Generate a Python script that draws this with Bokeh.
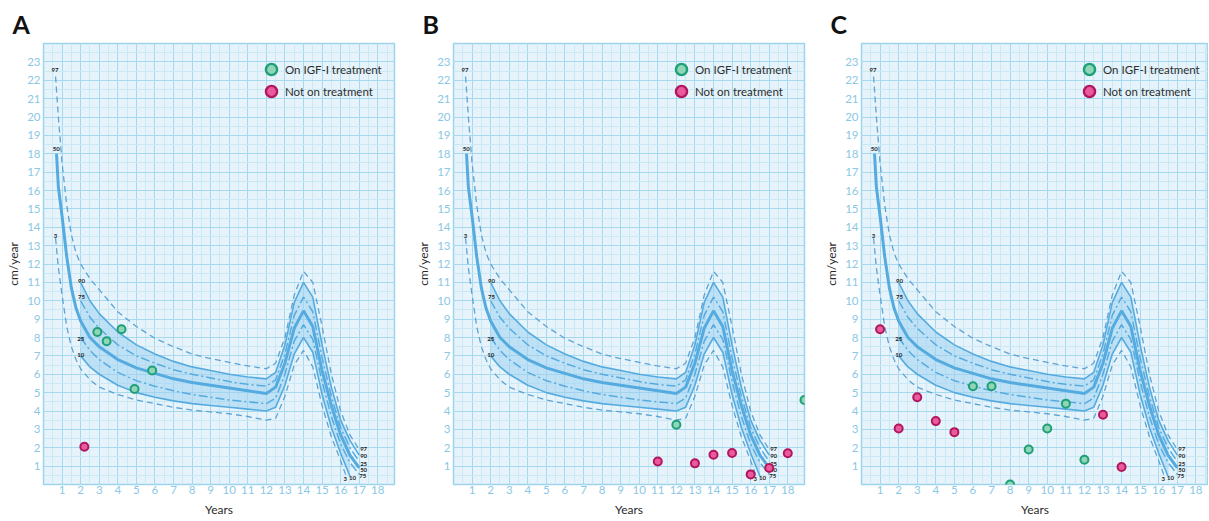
from bokeh.plotting import figure
from bokeh.layouts import row
from bokeh.models import FixedTicker, Range1d, Legend, LegendItem
from bokeh.core.properties import value
from bokeh.embed import file_html
from bokeh.resources import INLINE

# ---------------- data ----------------
YEARS = list(range(1, 19))
CMY = list(range(1, 24))

P97_X = [0.65, 0.8, 1.0, 1.25, 1.5, 1.75, 2.0, 2.5, 3, 4, 5, 6, 7, 8, 9, 10, 11, 12, 12.5, 13, 13.5, 14, 14.5, 15, 15.5, 16, 16.5, 17]
P97_Y = [22.2, 20.0, 17.5, 15.2, 13.6, 12.6, 12.0, 11.2, 10.6, 9.4, 8.6, 7.95, 7.5, 7.1, 6.85, 6.65, 6.45, 6.3, 6.6, 8.0, 10.3, 11.6, 11.0, 8.6, 6.0, 4.0, 2.7, 1.9]
P50_X = [0.7, 0.8, 1.0, 1.25, 1.5, 1.75, 2.0, 2.5, 3, 4, 5, 6, 7, 8, 9, 10, 11, 12, 12.5, 13, 13.5, 14, 14.5, 15, 15.5, 16, 16.5, 17]
P50_Y = [18.0, 16.2, 14.6, 12.4, 10.7, 9.6, 8.9, 8.0, 7.5, 6.8, 6.35, 6.05, 5.75, 5.55, 5.4, 5.25, 5.1, 4.95, 5.3, 6.6, 8.5, 9.45, 8.6, 6.2, 4.3, 2.7, 1.6, 0.9]
P3_X = [0.65, 0.8, 1.0, 1.25, 1.5, 1.75, 2.0, 2.5, 3, 4, 5, 6, 7, 8, 9, 10, 11, 12, 12.5, 13, 13.5, 14, 14.5, 15, 15.5, 16, 16.3]
P3_Y = [13.4, 11.8, 10.3, 8.6, 7.5, 6.8, 6.3, 5.7, 5.3, 4.9, 4.6, 4.4, 4.2, 4.05, 3.95, 3.85, 3.7, 3.5, 3.6, 4.8, 6.5, 7.3, 6.4, 4.3, 2.6, 1.3, 0.45]

AGE = [2.0, 2.5, 3, 4, 5, 6, 7, 8, 9, 10, 11, 12, 12.5, 13, 13.5, 14, 14.5, 15, 15.5, 16, 16.5, 17]
P90_Y = [11.0, 10.0, 9.3, 8.3, 7.6, 7.1, 6.7, 6.4, 6.2, 6.0, 5.85, 5.75, 6.1, 7.6, 9.9, 11.0, 10.2, 7.6, 5.3, 3.5, 2.4, 1.6]
P75_Y = [10.0, 9.1, 8.5, 7.6, 7.0, 6.6, 6.25, 6.0, 5.8, 5.6, 5.45, 5.35, 5.7, 7.1, 9.2, 10.2, 9.4, 6.9, 4.8, 3.1, 2.0, 1.25]
P25_Y = [8.0, 7.3, 6.8, 6.1, 5.65, 5.35, 5.1, 4.9, 4.75, 4.6, 4.5, 4.4, 4.7, 6.0, 7.8, 8.7, 7.9, 5.6, 3.7, 2.2, 1.2, 0.55]
P10_X = [2.0, 2.5, 3, 4, 5, 6, 7, 8, 9, 10, 11, 12, 12.5, 13, 13.5, 14, 14.5, 15, 15.5, 16, 16.5]
P10_Y = [7.0, 6.4, 6.0, 5.4, 5.0, 4.75, 4.55, 4.4, 4.3, 4.2, 4.1, 4.0, 4.2, 5.4, 7.1, 8.0, 7.2, 4.9, 3.1, 1.7, 0.45]

PCT_LABELS = ["97", "50", "3", "90", "75", "25", "10"]
PCT_LABEL_X = [0.62, 0.68, 0.65, 2.05, 2.05, 2.0, 2.0]
PCT_LABEL_Y = [22.55, 18.25, 13.5, 11.1, 10.2, 7.9, 7.03]
END_LABELS = ["97", "90", "25", "50", "75", "3", "10"]
END_LABEL_X = [17.05, 17.05, 17.05, 17.05, 17.0, 16.15, 16.45]
END_LABEL_Y = [1.91, 1.53, 1.13, 0.8, 0.44, 0.31, 0.35]

A_ON_X = [2.9, 3.4, 4.2, 5.85, 4.9]
A_ON_Y = [8.3, 7.8, 8.45, 6.2, 5.2]
A_OFF_X = [2.2]
A_OFF_Y = [2.05]
B_ON_X = [12.0, 18.9]
B_ON_Y = [3.25, 4.6]
B_OFF_X = [11.0, 13.0, 14.0, 15.0, 16.0, 17.0, 18.0]
B_OFF_Y = [1.25, 1.15, 1.62, 1.71, 0.55, 0.9, 1.7]
C_ON_X = [6, 7, 8, 9, 10, 11, 12]
C_ON_Y = [5.35, 5.35, 0.0, 1.9, 3.05, 4.4, 1.35]
C_OFF_X = [1, 2, 3, 4, 5, 13, 14]
C_OFF_Y = [8.45, 3.05, 4.75, 3.45, 2.85, 3.8, 0.95]

LEGEND_PROXY = [float("nan")]

# ---------------- style ----------------
FONT = "Lato"
CURVE = "#55abdf"
DASHC = "#5ea3d3"
BAND = "#9fd2f0"
GREEN_FILL, GREEN_LINE = "#8fd6b6", "#1f9f78"
MAG_FILL, MAG_LINE = "#ec5a9e", "#b0175e"
TICK_C = "#8ac8e6"
FRAME_H = 441
TOP, BOTTOM = 43, 36


def legend_box(renderer, label, y):
    return Legend(items=[LegendItem(label=label, renderers=[renderer])],
                  location=(214, y), background_fill_alpha=0, border_line_color=None,
                  label_text_font=FONT, label_text_font_size="11.5px",
                  label_text_color="#2e2e2e",
                  glyph_width=28, glyph_height=28, label_height=28, spacing=0,
                  padding=0, label_standoff=0, margin=0)


def make_panel(letter, on_x, on_y, off_x, off_y, left, frame_w, right, x_max):
    p = figure(width=left + frame_w + right, height=TOP + FRAME_H + BOTTOM,
               x_range=Range1d(0, x_max), y_range=Range1d(0, 24),
               output_backend="svg", toolbar_location=None,
               min_border_left=left, min_border_right=right,
               min_border_top=TOP, min_border_bottom=BOTTOM)
    p.background_fill_color = "#e6f3fa"
    p.border_fill_color = "white"
    p.outline_line_color = "#9dd3ed"
    p.outline_line_width = 1.5

    p.title.text = letter
    p.title.align = "left"
    p.title.offset = -31
    p.title.standoff = 10
    p.title.text_font = FONT
    p.title.text_font_size = "25px"
    p.title.text_font_style = "bold"
    p.title.text_color = "#111111"

    p.xaxis.ticker = FixedTicker(ticks=YEARS, minor_ticks=[i * 0.5 for i in range(1, 38)])
    p.yaxis.ticker = FixedTicker(ticks=CMY, minor_ticks=[i * 0.5 for i in range(1, 48)])
    for ax in (p.xaxis, p.yaxis):
        ax.axis_line_color = None
        ax.major_tick_line_color = None
        ax.minor_tick_line_color = None
        ax.major_tick_out = 0
        ax.major_tick_in = 0
        ax.minor_tick_out = 0
        ax.minor_tick_in = 0
        ax.major_label_text_color = TICK_C
        ax.major_label_text_font = FONT
        ax.major_label_text_font_size = "11.5px"
        ax.axis_label_text_font = FONT
        ax.axis_label_text_font_size = "12px"
        ax.axis_label_text_font_style = "normal"
        ax.axis_label_text_color = "#2b2b2b"
    p.xaxis.axis_label = "Years"
    p.yaxis.axis_label = "cm/year"
    p.xaxis.major_label_standoff = 1
    p.xaxis.axis_label_standoff = 5
    p.yaxis.major_label_standoff = 3
    p.yaxis.axis_label_standoff = 3

    for g in (p.xgrid, p.ygrid):
        g.grid_line_color = "#a6d8ef"
        g.grid_line_width = 1
        g.minor_grid_line_color = "#cbe8f5"
        g.minor_grid_line_width = 1

    # band between 10th and 90th centile
    p.varea(x=P10_X, y1=P10_Y, y2=P90_Y[:len(P10_X)], fill_color=BAND, fill_alpha=0.55)

    p.line(P97_X, P97_Y, line_color=DASHC, line_width=1.3, line_dash="6 4")
    p.line(P3_X, P3_Y, line_color=DASHC, line_width=1.3, line_dash="6 4")
    p.line(AGE, P90_Y, line_color=CURVE, line_width=1.6)
    p.line(P10_X, P10_Y, line_color=CURVE, line_width=1.6)
    p.line(AGE, P75_Y, line_color=CURVE, line_width=1.5, line_dash="9 3 2 3")
    p.line(AGE, P25_Y, line_color=CURVE, line_width=1.5, line_dash="9 3 2 3")
    p.line(P50_X, P50_Y, line_color=CURVE, line_width=3)

    p.text(x=PCT_LABEL_X, y=PCT_LABEL_Y, text=PCT_LABELS, text_font=value(FONT),
           text_font_size="6px", text_font_style="bold", text_color="#222222",
           text_align="center", text_baseline="middle")
    p.text(x=END_LABEL_X, y=END_LABEL_Y, text=END_LABELS, text_font=value(FONT),
           text_font_size="6px", text_font_style="bold", text_color="#222222",
           text_align="left", text_baseline="middle")

    p.scatter(on_x, on_y, size=8, fill_color=GREEN_FILL, line_color=GREEN_LINE, line_width=2)
    p.scatter(off_x, off_y, size=8, fill_color=MAG_FILL, line_color=MAG_LINE, line_width=2)

    leg_on = p.scatter(LEGEND_PROXY, LEGEND_PROXY, size=11, fill_color=GREEN_FILL,
                       line_color=GREEN_LINE, line_width=2.4)
    leg_off = p.scatter(LEGEND_PROXY, LEGEND_PROXY, size=11, fill_color=MAG_FILL,
                        line_color=MAG_LINE, line_width=2.4)
    p.add_layout(legend_box(leg_on, "On IGF-I treatment", 401))
    p.add_layout(legend_box(leg_off, "Not on treatment", 379))
    return p


pA = make_panel("A", A_ON_X, A_ON_Y, A_OFF_X, A_OFF_Y, 43, 351, 16, 18.9)
pB = make_panel("B", B_ON_X, B_ON_Y, B_OFF_X, B_OFF_Y, 43, 351, 14, 18.9)
pC = make_panel("C", C_ON_X, C_ON_Y, C_OFF_X, C_OFF_Y, 43, 347, 0, 18.68)

layout = row(pA, pB, pC)
open("out.html", "w").write(file_html(layout, INLINE))
